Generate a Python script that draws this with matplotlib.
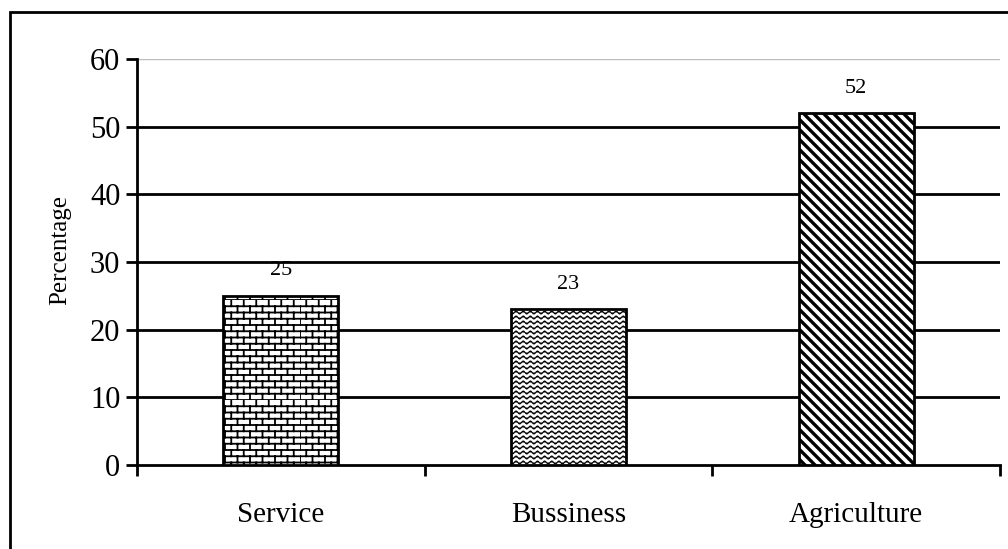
import numpy as np
import matplotlib.pyplot as plt
from matplotlib import hatch as mhatch
from matplotlib.path import Path
from matplotlib.patches import Rectangle

plt.rcParams['font.family'] = ['Liberation Serif', 'DejaVu Serif']
plt.rcParams['hatch.linewidth'] = 1.2

categories = ['Service', 'Bussiness', 'Agriculture']
values = [25, 23, 52]
hatches = ['O', '*', '\\']
hatch_widths = [1.3, 0.8, 2.4]
y_ticks = [0, 10, 20, 30, 40, 50, 60]


# custom fill textures (brick, wave, wide stripes), one unit = 72 pt
class BrickHatch(mhatch.HatchPatternBase):
    rows, cols = 16, 8

    def __init__(self, hatch, density):
        self.on = 'O' in hatch
        self.num_vertices = (self.rows * 2 + self.rows * self.cols * 2) if self.on else 0

    def set_vertices_and_codes(self, vertices, codes):
        v = []
        for k in range(self.rows):
            y0 = k / self.rows
            v += [(0, y0), (1, y0)]
            off = 0.5 * (k % 2)
            for j in range(self.cols):
                xx = ((j + off) / self.cols) % 1.0
                v += [(xx, y0), (xx, y0 + 1 / self.rows)]
        vertices[:] = np.array(v)
        codes[0::2] = Path.MOVETO
        codes[1::2] = Path.LINETO


class WaveHatch(mhatch.HatchPatternBase):
    rows, periods, pts = 20, 14, 8

    def __init__(self, hatch, density):
        self.on = '*' in hatch
        self.n = self.periods * self.pts + 1
        self.num_vertices = self.rows * self.n if self.on else 0

    def set_vertices_and_codes(self, vertices, codes):
        xs = np.linspace(0, 1, self.n)
        for k in range(self.rows):
            y0 = (k + 0.5) / self.rows
            seg = slice(k * self.n, (k + 1) * self.n)
            vertices[seg, 0] = xs
            vertices[seg, 1] = y0 + 0.015 * np.sin(2 * np.pi * self.periods * xs)
            codes[seg] = Path.LINETO
            codes[k * self.n] = Path.MOVETO


class StripeHatch(mhatch.HatchPatternBase):
    def __init__(self, hatch, density):
        self.num_lines = 20 if '\\' in hatch else 0
        self.num_vertices = (self.num_lines + 1) * 2 if self.num_lines else 0

    def set_vertices_and_codes(self, vertices, codes):
        steps = np.linspace(-0.5, 0.5, self.num_lines + 1)
        vertices[0::2, 0] = 0.0 + steps
        vertices[0::2, 1] = 1.0 + steps
        vertices[1::2, 0] = 1.0 + steps
        vertices[1::2, 1] = 0.0 + steps
        codes[0::2] = Path.MOVETO
        codes[1::2] = Path.LINETO


mhatch._hatch_types = [BrickHatch, WaveHatch, StripeHatch]

fig = plt.figure(figsize=(10.08, 5.49), dpi=100)
ax = fig.add_axes([137 / 1008, 1 - 465 / 549, (1000 - 137) / 1008, (465 - 59) / 549])

# outer chart-area border (cut at the right and bottom in the original)
fig.patches.append(Rectangle((10 / 1008, -0.05), 1.1, 1.05 - 12 / 549,
                             transform=fig.transFigure, fill=False,
                             edgecolor='black', linewidth=2))

x = list(range(len(categories)))
bars = ax.bar(x, values, width=0.4, color='white', edgecolor='black', linewidth=2, zorder=3)
for b, h, hw in zip(bars, hatches, hatch_widths):
    b.set_hatch(h)
    if hasattr(b, 'set_hatch_linewidth'):
        b.set_hatch_linewidth(hw)

for xi, v in zip(x, values):
    ax.text(xi, v + 2.3, str(v), ha='center', va='bottom', fontsize=16)

ax.set_xlim(-0.5, 2.5)
ax.set_ylim(0, 60)
ax.set_yticks(y_ticks)
ax.set_xticks(x)
ax.set_xticklabels(categories, fontsize=21)
ax.set_xticks([-0.5, 0.5, 1.5, 2.5], minor=True)
ax.tick_params(axis='x', which='major', length=0, pad=27)
ax.tick_params(axis='x', which='minor', length=8, width=2, direction='out')
ax.tick_params(axis='y', labelsize=22, length=8, width=2, direction='out', pad=4)

for t in y_ticks[1:-1]:
    ax.axhline(t, color='black', linewidth=2, zorder=1)
ax.axhline(60, color='#bbbbbb', linewidth=1, zorder=1)

for s in ['top', 'right']:
    ax.spines[s].set_visible(False)
ax.spines['left'].set_linewidth(2)
ax.spines['bottom'].set_linewidth(2)

ax.set_ylabel('Percentage', fontsize=18, va='center')
ax.yaxis.set_label_coords(-0.089, 0.53)

fig.savefig('out.png', dpi=100)
